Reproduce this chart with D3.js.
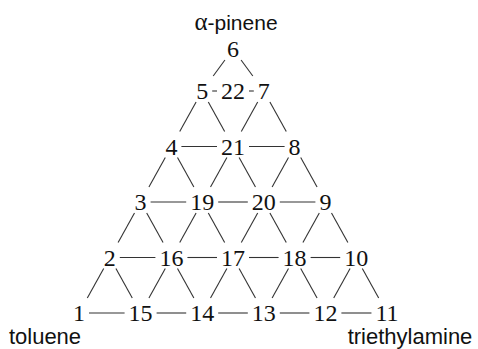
<!DOCTYPE html>
<html><head><meta charset="utf-8">
<script src="https://cdn.jsdelivr.net/npm/d3@7"></script>
<style>html,body{margin:0;padding:0;background:#fff;overflow:hidden}</style>
</head><body><svg id="c" width="478" height="349"></svg>
<script>
// Ternary mixture design: run numbers and their compositions
const pointLabels   = ["1","15","14","13","12","11", "2","16","17","18","10", "3","19","20","9", "4","21","8", "5","22","7", "6"];
const toluene       = [1.0,0.8,0.6,0.4,0.2,0.0,     0.8,0.6,0.4,0.2,0.0,     0.6,0.4,0.2,0.0,    0.4,0.2,0.0,   0.2,0.1,0.0,  0.0];
const pinene        = [0.0,0.0,0.0,0.0,0.0,0.0,     0.2,0.2,0.2,0.2,0.2,     0.4,0.4,0.4,0.4,    0.6,0.6,0.6,   0.8,0.8,0.8,  1.0];
const triethylamine = [0.0,0.2,0.4,0.6,0.8,1.0,     0.0,0.2,0.4,0.6,0.8,     0.0,0.2,0.4,0.6,    0.0,0.2,0.4,   0.0,0.1,0.2,  0.0];
const links = [
  ["1","15"],["15","14"],["14","13"],["13","12"],["12","11"],
  ["2","16"],["16","17"],["17","18"],["18","10"],
  ["3","19"],["19","20"],["20","9"],
  ["4","21"],["21","8"],
  ["5","22"],["22","7"],
  ["2","1"],["2","15"],["16","15"],["16","14"],["17","14"],["17","13"],["18","13"],["18","12"],["10","12"],["10","11"],
  ["3","2"],["3","16"],["19","16"],["19","17"],["20","17"],["20","18"],["9","18"],["9","10"],
  ["4","3"],["4","19"],["21","19"],["21","20"],["8","20"],["8","9"],
  ["5","4"],["5","21"],["7","21"],["7","8"],
  ["6","5"],["6","7"]
];
const vertexNames = {top:"-pinene", topSymbol:"α", left:"toluene", right:"triethylamine"};

const svg = d3.select("#c");
// horizontal position follows triethylamine + half of alpha-pinene
const x = d3.scaleLinear().domain([0,1]).range([79,387]);
const y = d3.scaleLinear().domain([0,0.8,1]).range([313,91,49]);

const nodes = pointLabels.map((l,i)=>({label:l, t:toluene[i], p:pinene[i], e:triethylamine[i]}));
nodes.forEach(n=>{ n.x = x(n.e + n.p/2); n.y = y(n.p); });
const byLabel = new Map(nodes.map(n=>[n.label,n]));

const serif = "'Liberation Serif','Times New Roman',serif";
const sans = "'Liberation Sans',Arial,Helvetica,sans-serif";

const labels = svg.append("g").selectAll("text").data(nodes).join("text")
  .attr("x", d=>d.x).attr("y", d=>d.y+8)
  .attr("text-anchor","middle")
  .attr("font-family", serif).attr("font-size", 24).attr("fill","#111")
  .text(d=>d.label);
labels.each(function(d){ d.w = this.getComputedTextLength(); });

const gap = 4;
const segs = links.map(([a,b])=>{
  let A = byLabel.get(a), B = byLabel.get(b);
  if (Math.abs(A.y-B.y) < 1) {
    if (A.x > B.x) [A,B] = [B,A];
    return {x1:A.x + A.w/2 + gap, y1:A.y, x2:B.x - B.w/2 - gap, y2:B.y};
  }
  if (A.y > B.y) [A,B] = [B,A]; // A upper
  const dy = B.y - A.y;
  const t1 = 11/dy, t2 = 1 - 15/dy;
  return {x1:A.x + (B.x-A.x)*t1, y1:A.y + dy*t1, x2:A.x + (B.x-A.x)*t2, y2:A.y + dy*t2};
});
svg.insert("g","g").selectAll("line").data(segs).join("line")
  .attr("x1",d=>d.x1).attr("y1",d=>d.y1).attr("x2",d=>d.x2).attr("y2",d=>d.y2)
  .attr("stroke","#333").attr("stroke-width",1.1);

// vertex names
const topLabel = svg.append("text").attr("x", x(0.5)+3).attr("y", y(1)-19)
  .attr("text-anchor","middle").attr("font-size",21).attr("fill","#111");
topLabel.append("tspan").attr("font-family",serif).attr("font-size",25).text(vertexNames.topSymbol);
topLabel.append("tspan").attr("font-family",sans).text(vertexNames.top);

svg.append("text").attr("x", x(0)-34).attr("y", 344).attr("text-anchor","middle")
  .attr("font-family",sans).attr("font-size",22).attr("fill","#111").text(vertexNames.left);
svg.append("text").attr("x", x(1)+23).attr("y", 344).attr("text-anchor","middle")
  .attr("font-family",sans).attr("font-size",22).attr("fill","#111").text(vertexNames.right);
</script></body></html>
